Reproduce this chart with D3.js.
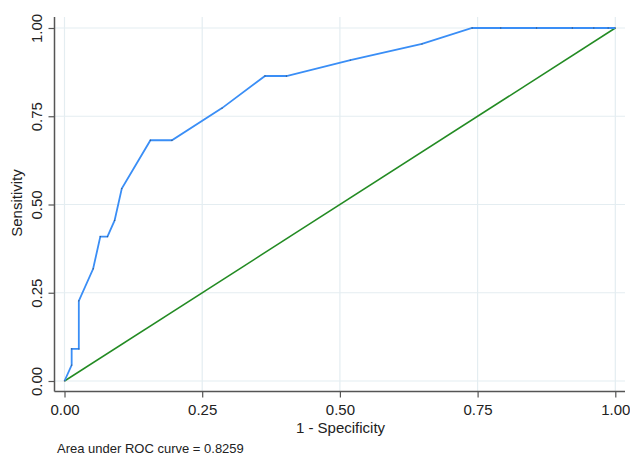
<!DOCTYPE html>
<html>
<head>
<meta charset="utf-8">
<script src="https://cdn.jsdelivr.net/npm/d3@7"></script>
<style>
  html, body { margin: 0; padding: 0; background: #fff; }
  svg text { font-family: "Liberation Sans", Arial, Helvetica, sans-serif; fill: #222; }
</style>
</head>
<body>
<svg id="chart" width="630" height="455"></svg>
<script>
// ROC curve vertices (1 - Specificity, Sensitivity)
const fpr = [0, 0.013, 0.013, 0.026, 0.026, 0.052, 0.065, 0.078, 0.091, 0.104, 0.156, 0.195, 0.286, 0.364, 0.403, 0.519, 0.649, 0.740, 0.792, 0.857, 0.922, 0.961, 0.987, 1.0];
const tpr = [0, 0.045, 0.091, 0.091, 0.227, 0.318, 0.409, 0.409, 0.455, 0.545, 0.682, 0.682, 0.773, 0.864, 0.864, 0.909, 0.955, 1.0, 1.0, 1.0, 1.0, 1.0, 1.0, 1.0];
const refX = [0, 1];
const refY = [0, 1];
const tickValues = [0, 0.25, 0.5, 0.75, 1];
const tickLabels = ["0.00", "0.25", "0.50", "0.75", "1.00"];
const xTitle = "1 - Specificity";
const yTitle = "Sensitivity";
const note = "Area under ROC curve = 0.8259";

const svg = d3.select("#chart");
const x = d3.scaleLinear().domain([0, 1]).range([64.5, 615.3]);
const y = d3.scaleLinear().domain([0, 1]).range([381, 28]);

const pLeft = 54.5, pRight = 625, pTop = 17, pBottom = 391.5;

// gridlines
const grid = svg.append("g");
grid.selectAll("line.vg").data(tickValues).join("line").attr("class", "vg")
  .attr("x1", d => x(d)).attr("x2", d => x(d))
  .attr("y1", pTop).attr("y2", pBottom)
  .attr("stroke", "#e4edf1").attr("stroke-width", 1.2);
grid.selectAll("line.hg").data(tickValues).join("line").attr("class", "hg")
  .attr("y1", d => y(d)).attr("y2", d => y(d))
  .attr("x1", pLeft).attr("x2", pRight)
  .attr("stroke", "#e4edf1").attr("stroke-width", 1.2);

// axes
const xAxis = d3.axisBottom(x).tickValues(tickValues).tickFormat((d, i) => tickLabels[i]).tickSize(6).tickPadding(4);
const yAxis = d3.axisLeft(y).tickValues(tickValues).tickFormat((d, i) => tickLabels[i]).tickSize(6).tickPadding(4);

const gx = svg.append("g").attr("transform", `translate(0,${pBottom})`).call(xAxis);
gx.select(".domain").remove();
gx.selectAll(".tick line").attr("stroke", "#555").attr("stroke-width", 1.2);
gx.selectAll(".tick text").attr("font-size", 15).attr("font-family", "Liberation Sans, Arial, sans-serif").attr("fill", "#222").attr("dy", "0.9em");
svg.append("line").attr("x1", pLeft).attr("x2", pRight).attr("y1", pBottom).attr("y2", pBottom).attr("stroke", "#555").attr("stroke-width", 1.5);

const gy = svg.append("g").attr("transform", `translate(${pLeft},0)`).call(yAxis);
gy.select(".domain").remove();
gy.selectAll(".tick line").attr("stroke", "#555").attr("stroke-width", 1.2);
gy.selectAll(".tick text")
  .attr("font-size", 15).attr("font-family", "Liberation Sans, Arial, sans-serif").attr("fill", "#222")
  .attr("text-anchor", "middle").attr("x", 0).attr("dy", 0)
  .attr("transform", "translate(-12.5,0) rotate(-90)");
svg.append("line").attr("x1", pLeft).attr("x2", pLeft).attr("y1", pTop).attr("y2", pBottom).attr("stroke", "#555").attr("stroke-width", 1.5);

// reference line
const line = d3.line().x(d => x(d[0])).y(d => y(d[1]));
svg.append("path").datum(refX.map((v, i) => [v, refY[i]]))
  .attr("d", line).attr("fill", "none").attr("stroke", "#238b23").attr("stroke-width", 1.5);

// ROC curve
const roc = fpr.map((v, i) => [v, tpr[i]]);
svg.append("path").datum(roc)
  .attr("d", line).attr("fill", "none").attr("stroke", "#3a8ef6").attr("stroke-width", 1.8);
svg.append("g").selectAll("circle").data(roc).join("circle")
  .attr("cx", d => x(d[0])).attr("cy", d => y(d[1])).attr("r", 0.7)
  .attr("fill", "#333").attr("opacity", 0.6);

// titles
svg.append("text").attr("x", 340.5).attr("y", 432.5).attr("text-anchor", "middle")
  .attr("font-size", 15).text(xTitle);
svg.append("text").attr("transform", "translate(22,203) rotate(-90)").attr("text-anchor", "middle")
  .attr("font-size", 15).text(yTitle);
svg.append("text").attr("x", 57).attr("y", 453).attr("font-size", 13).text(note);
</script>
</body>
</html>
